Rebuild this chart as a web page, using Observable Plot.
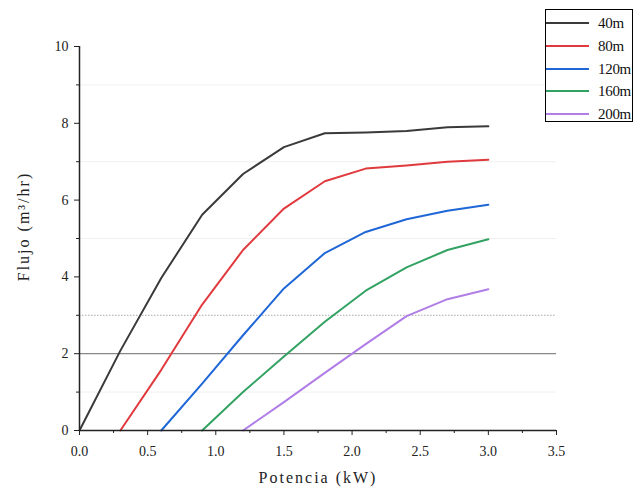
<!DOCTYPE html>
<html>
<head>
<meta charset="utf-8">
<script src="https://cdn.jsdelivr.net/npm/d3@7"></script>
<script src="https://cdn.jsdelivr.net/npm/@observablehq/plot@0.6"></script>
<style>
  body { margin: 0; background: #fff; }
  #wrap { position: relative; width: 641px; height: 488px; overflow: hidden; font-family: "Liberation Serif", "DejaVu Serif", serif; }
  #legend { position: absolute; left: 545px; top: 9px; width: 88px; height: 113px; border: 1px solid #000; box-sizing: border-box; background: #fff; }
  #legend .item { position: absolute; left: 0; height: 20px; width: 100%; }
  #legend .sw { position: absolute; left: 0; top: 9px; width: 43px; height: 0; border-top: 2px solid; }
  #legend .lb { position: absolute; left: 52px; top: 0; font-size: 15px; line-height: 20px; color: #111; letter-spacing: -0.3px; }
</style>
</head>
<body>
<div id="wrap"></div>
<script>
const potencia = [0, 0.3, 0.6, 0.9, 1.2, 1.5, 1.8, 2.1, 2.4, 2.7, 3.0];
const series = ["40m", "80m", "120m", "160m", "200m"];
const colors = ["#3a3a3a", "#e03a3e", "#1f66d6", "#32a263", "#b07ee6"];
const flujo40  = [0, 2.08, 3.97, 5.62, 6.68, 7.38, 7.74, 7.76, 7.80, 7.90, 7.92];
const flujo80  = [null, 0, 1.58, 3.28, 4.70, 5.78, 6.49, 6.82, 6.90, 7.00, 7.05];
const flujo120 = [null, null, 0, 1.22, 2.48, 3.70, 4.62, 5.17, 5.50, 5.72, 5.88];
const flujo160 = [null, null, null, 0, 1.00, 1.93, 2.83, 3.64, 4.25, 4.70, 4.98];
const flujo200 = [null, null, null, null, 0, 0.74, 1.50, 2.25, 2.98, 3.42, 3.68];
const xTicks = [0, 0.5, 1, 1.5, 2, 2.5, 3, 3.5];
const xMinor = [0.25, 0.75, 1.25, 1.75, 2.25, 2.75, 3.25];
const yTicks = [0, 2, 4, 6, 8, 10];
const yMinor = [1, 3, 5, 7, 9];
const faintLines = [1, 5, 7, 9];
const solidRef = [2];
const dottedRef = [3];

const all = [flujo40, flujo80, flujo120, flujo160, flujo200];
const data = [];
series.forEach((s, i) => {
  potencia.forEach((p, j) => {
    const v = all[i][j];
    if (v !== null) data.push({serie: s, potencia: p, flujo: v});
  });
});

const chart = Plot.plot({
  width: 641,
  height: 488,
  marginLeft: 79,
  marginRight: 85,
  marginTop: 46,
  marginBottom: 58,
  style: {fontFamily: "'Liberation Serif', 'DejaVu Serif', serif", fontSize: "14px", color: "#222", background: "#fff"},
  x: {domain: [0, 3.5], axis: null},
  y: {domain: [0, 10], axis: null},
  color: {domain: series, range: colors},
  marks: [
    Plot.ruleY(faintLines, {stroke: "#f0f0f0", strokeWidth: 1}),
    Plot.ruleY(solidRef, {stroke: "#888", strokeWidth: 1.2}),
    Plot.ruleY(dottedRef, {stroke: "#aaa", strokeWidth: 1, strokeDasharray: "1.5,1.5"}),
    Plot.line(data, {x: "potencia", y: "flujo", z: "serie", stroke: "serie", strokeWidth: 2}),
    Plot.ruleY([0], {stroke: "#222", strokeWidth: 1.5}),
    Plot.ruleX([0], {stroke: "#222", strokeWidth: 1.5}),
    Plot.axisX(xTicks, {tickSize: 5, tickPadding: 11, tickFormat: d3.format(".1f"), fontSize: 14, stroke: "#222",
      label: "Potencia (kW)", labelAnchor: "center", labelOffset: 52, labelArrow: "none"}),
    Plot.axisX(xMinor, {tickSize: 3, tickFormat: () => "", label: null, stroke: "#222"}),
    Plot.axisY(yTicks, {tickSize: 5, tickPadding: 6, fontSize: 14, stroke: "#222",
      label: "Flujo (m³/hr)", labelAnchor: "center", labelOffset: 62, labelArrow: "none"}),
    Plot.axisY(yMinor, {tickSize: 3, tickFormat: () => "", label: null, stroke: "#222"})
  ]
});
chart.querySelectorAll("g[aria-label='x-axis label'] text, g[aria-label='y-axis label'] text").forEach(t => {
  t.textContent = t.textContent.replace(/[←→↑↓]/g, "").trim();
  t.setAttribute("font-size", "16");
  t.style.letterSpacing = "2px";
});
chart.querySelectorAll("g[aria-label='y-axis label'] text").forEach(t => t.setAttribute("dx", "12"));
const wrap = document.getElementById("wrap");
wrap.appendChild(chart);

const legend = document.createElement("div");
legend.id = "legend";
series.forEach((s, i) => {
  const item = document.createElement("div");
  item.className = "item";
  item.style.top = (3 + i * 22.8) + "px";
  const sw = document.createElement("div");
  sw.className = "sw";
  sw.style.borderTopColor = colors[i];
  const lb = document.createElement("div");
  lb.className = "lb";
  lb.textContent = s;
  item.appendChild(sw);
  item.appendChild(lb);
  legend.appendChild(item);
});
wrap.appendChild(legend);
</script>
</body>
</html>
